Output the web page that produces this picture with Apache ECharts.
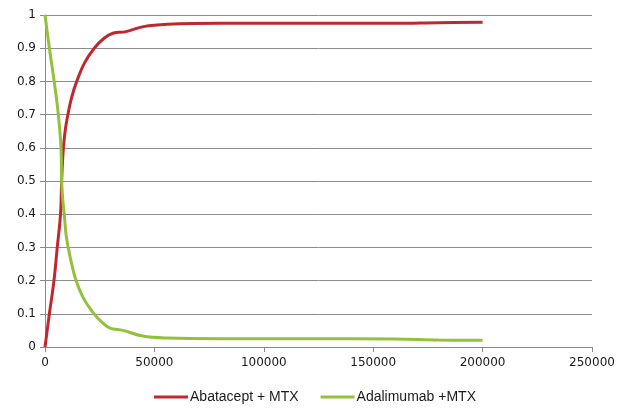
<!DOCTYPE html>
<html>
<head>
<meta charset="utf-8">
<script src="https://cdn.jsdelivr.net/npm/echarts@6/dist/echarts.min.js"></script>
<style>
  html, body { margin: 0; padding: 0; background: #fff; }
  #chart { width: 630px; height: 411px; }
</style>
</head>
<body>
<div id="chart"></div>
<script>
// Probability curves over the willingness-to-pay range
var seriesNames = ['Abatacept + MTX', 'Adalimumab +MTX'];

var abataceptX = [0, 2000, 4100, 5600, 7100, 7600, 8400, 9400, 10600, 12300, 14500, 18000, 22500, 27000, 31000, 37000, 45000, 56000, 80000, 120000, 160000, 180000, 200000];
var abataceptY = [0, 0.1, 0.2, 0.3, 0.4, 0.5, 0.6, 0.66, 0.705, 0.755, 0.8, 0.855, 0.9, 0.93, 0.945, 0.95, 0.965, 0.972, 0.975, 0.975, 0.975, 0.977, 0.978];

var adalimumabX = [0, 2000, 4200, 6100, 7300, 7600, 8300, 8800, 9600, 10600, 12200, 14200, 17500, 22400, 26000, 29700, 35600, 44700, 56000, 80000, 120000, 160000, 180000, 200000];
var adalimumabY = [1, 0.9, 0.8, 0.7, 0.6, 0.5, 0.43, 0.4, 0.34, 0.3, 0.25, 0.2, 0.148, 0.1, 0.075, 0.057, 0.05, 0.033, 0.027, 0.025, 0.025, 0.024, 0.021, 0.02];

var xTicks = [0, 50000, 100000, 150000, 200000, 250000];
var yTicks = [0, 0.1, 0.2, 0.3, 0.4, 0.5, 0.6, 0.7, 0.8, 0.9, 1];

function pairs(xs, ys) {
  return xs.map(function (x, i) { return [x, ys[i]]; });
}

var chart = echarts.init(document.getElementById('chart'), null, { renderer: 'canvas' });
var axisFont = { fontFamily: 'DejaVu Sans', fontSize: 12, color: '#1a1a1a' };

chart.setOption({
  animation: false,
  backgroundColor: '#fff',
  grid: { left: 45, right: 38, top: 15, bottom: 64 },
  xAxis: {
    type: 'value',
    min: xTicks[0],
    max: xTicks[xTicks.length - 1],
    interval: 50000,
    axisLine: { show: true, lineStyle: { color: '#8a8a8a', width: 1 } },
    axisTick: { show: true, length: 5, lineStyle: { color: '#8a8a8a' } },
    axisLabel: Object.assign({ margin: 10, formatter: function (v) { return String(v); } }, axisFont),
    splitLine: { show: false }
  },
  yAxis: {
    type: 'value',
    min: yTicks[0],
    max: yTicks[yTicks.length - 1],
    interval: 0.1,
    axisLine: { show: true, lineStyle: { color: '#8a8a8a', width: 1 } },
    axisTick: { show: true, length: 5, lineStyle: { color: '#8a8a8a' } },
    axisLabel: Object.assign({ margin: 9, formatter: function (v) { return String(Math.round(v * 10) / 10); } }, axisFont),
    splitLine: { show: true, lineStyle: { color: '#8c8c8c', width: 1 } }
  },
  legend: {
    bottom: 2,
    left: 'center',
    icon: 'rect',
    itemWidth: 34,
    itemHeight: 3,
    itemGap: 22,
    textStyle: { fontFamily: 'Liberation Sans', fontSize: 14, color: '#1a1a1a', padding: [0, 0, 0, -3] },
    data: seriesNames
  },
  series: [
    {
      name: seriesNames[0],
      type: 'line',
      smooth: 0.4,
      showSymbol: false,
      data: pairs(abataceptX, abataceptY),
      itemStyle: { color: '#C0282F' },
      lineStyle: { color: '#C0282F', width: 3 }
    },
    {
      name: seriesNames[1],
      type: 'line',
      smooth: 0.4,
      showSymbol: false,
      data: pairs(adalimumabX, adalimumabY),
      itemStyle: { color: '#93C13C' },
      lineStyle: { color: '#93C13C', width: 3 }
    }
  ]
});
</script>
</body>
</html>
